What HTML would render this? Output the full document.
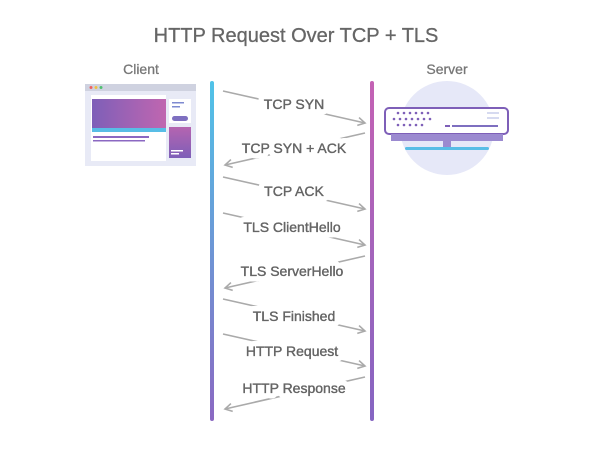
<!DOCTYPE html>
<html><head><style>body{margin:0;background:#fff}svg{display:block}</style></head><body>
<svg width="600" height="454" viewBox="0 0 600 454" font-family="Liberation Sans, sans-serif">
<defs>
<linearGradient id="gl" x1="0" y1="0" x2="0" y2="1"><stop offset="0" stop-color="#50c3e8"/><stop offset="1" stop-color="#8b68c2"/></linearGradient>
<linearGradient id="gr" x1="0" y1="0" x2="0" y2="1"><stop offset="0" stop-color="#c462b4"/><stop offset="1" stop-color="#8565c2"/></linearGradient>
<linearGradient id="gp" x1="0" y1="0" x2="1" y2="0"><stop offset="0" stop-color="#7e5fb8"/><stop offset="1" stop-color="#c066b0"/></linearGradient>
<linearGradient id="gp2" x1="0" y1="0" x2="0" y2="1"><stop offset="0" stop-color="#b564b0"/><stop offset="1" stop-color="#7e5fb8"/></linearGradient>
<marker id="ah" markerWidth="10" markerHeight="10" refX="8" refY="5" orient="auto" markerUnits="userSpaceOnUse"><path d="M1,1 L8,5 L1,9" fill="none" stroke="#aaa" stroke-width="1.6"/></marker>
</defs>
<text x="296" y="42" font-size="20" fill="#666" text-anchor="middle" stroke="#666" stroke-width="0.3">HTTP Request Over TCP + TLS</text>
<text x="141" y="74" font-size="14" fill="#777" text-anchor="middle" stroke="#777" stroke-width="0.3">Client</text>
<text x="447" y="74" font-size="14" fill="#777" text-anchor="middle" stroke="#777" stroke-width="0.3">Server</text>
<!-- client -->
<rect x="85" y="84" width="111" height="82" fill="#e8eaf6"/>
<rect x="85" y="84" width="111" height="7" fill="#cfd2e0"/>
<circle cx="91" cy="87.5" r="1.5" fill="#f06060"/><circle cx="96" cy="87.5" r="1.5" fill="#f0c040"/><circle cx="101" cy="87.5" r="1.5" fill="#50c070"/>
<rect x="91" y="95" width="75" height="66" fill="#fff"/>
<rect x="92" y="99" width="74" height="32" fill="url(#gp)"/>
<rect x="92" y="128" width="74" height="4" fill="#58bde6"/>
<rect x="93" y="136" width="56" height="2" fill="#8b68c2"/>
<rect x="93" y="140" width="52" height="1.5" fill="#8b68c2"/>
<rect x="169" y="99" width="22" height="24" fill="#fff"/>
<rect x="172" y="102" width="12" height="1.5" fill="#7e8ad0"/>
<rect x="172" y="106" width="8" height="1.5" fill="#7e8ad0"/>
<rect x="172" y="116" width="16" height="5" rx="2.5" fill="#7e6fc0"/>
<rect x="169" y="127" width="22" height="31" fill="url(#gp2)"/>
<rect x="171" y="150" width="12" height="1.5" fill="#fff"/>
<rect x="171" y="153" width="8" height="1.5" fill="#fff"/>
<!-- server -->
<circle cx="447" cy="128" r="47" fill="#e6e8f8"/>
<rect x="385" y="108" width="123" height="26" rx="4" fill="#fff" stroke="#7e5fb8" stroke-width="2"/>
<rect x="391" y="134" width="112" height="7" fill="#9b8ad0"/>
<g fill="#7e5fb8">
<circle cx="398" cy="113" r="1.3"/><circle cx="404" cy="113" r="1.3"/><circle cx="410" cy="113" r="1.3"/><circle cx="416" cy="113" r="1.3"/><circle cx="422" cy="113" r="1.3"/><circle cx="428" cy="113" r="1.3"/>
<circle cx="394" cy="119" r="1.3"/><circle cx="400" cy="119" r="1.3"/><circle cx="406" cy="119" r="1.3"/><circle cx="412" cy="119" r="1.3"/><circle cx="418" cy="119" r="1.3"/><circle cx="424" cy="119" r="1.3"/><circle cx="430" cy="119" r="1.3"/>
<circle cx="398" cy="125" r="1.3"/><circle cx="404" cy="125" r="1.3"/><circle cx="410" cy="125" r="1.3"/><circle cx="416" cy="125" r="1.3"/><circle cx="422" cy="125" r="1.3"/>
</g>
<rect x="487" y="112" width="12" height="2" fill="#d6daf0"/><rect x="487" y="117" width="12" height="2" fill="#d6daf0"/>
<rect x="445" y="125" width="5" height="2" fill="#7e5fb8"/><rect x="452" y="125" width="46" height="2" fill="#7e6fc0"/>
<rect x="443" y="141" width="8" height="6" fill="#9b8ad0"/>
<rect x="405" y="147" width="84" height="3" rx="1.5" fill="#58bde6"/>
<!-- lifelines -->
<rect x="210" y="81" width="4" height="340" rx="2" fill="url(#gl)"/>
<rect x="370" y="81" width="4" height="340" rx="2" fill="url(#gr)"/>
<g stroke="#aaa" stroke-width="1.6" fill="none">
<line x1="223" y1="91" x2="365" y2="123" marker-end="url(#ah)"/>
<line x1="365" y1="133" x2="225" y2="165" marker-end="url(#ah)"/>
<line x1="223" y1="177" x2="365" y2="209" marker-end="url(#ah)"/>
<line x1="223" y1="213" x2="365" y2="245" marker-end="url(#ah)"/>
<line x1="365" y1="256" x2="225" y2="288" marker-end="url(#ah)"/>
<line x1="223" y1="299" x2="365" y2="331" marker-end="url(#ah)"/>
<line x1="223" y1="334" x2="365" y2="366" marker-end="url(#ah)"/>
<line x1="365" y1="377" x2="225" y2="409" marker-end="url(#ah)"/>
</g>
<g font-size="14" text-anchor="middle" stroke="#fff" stroke-width="11" paint-order="stroke" stroke-linejoin="round" fill="#666">
<text x="294" y="109">TCP SYN</text>
<text x="294" y="153">TCP SYN + ACK</text>
<text x="294" y="196">TCP ACK</text>
<text x="292" y="232">TLS ClientHello</text>
<text x="292" y="276">TLS ServerHello</text>
<text x="294" y="321">TLS Finished</text>
<text x="292" y="356">HTTP Request</text>
<text x="294" y="393">HTTP Response</text>
</g>
<g font-size="14" text-anchor="middle" stroke="#666" stroke-width="0.35" fill="#666">
<text x="294" y="109">TCP SYN</text>
<text x="294" y="153">TCP SYN + ACK</text>
<text x="294" y="196">TCP ACK</text>
<text x="292" y="232">TLS ClientHello</text>
<text x="292" y="276">TLS ServerHello</text>
<text x="294" y="321">TLS Finished</text>
<text x="292" y="356">HTTP Request</text>
<text x="294" y="393">HTTP Response</text>
</g>
</svg>
</body></html>
